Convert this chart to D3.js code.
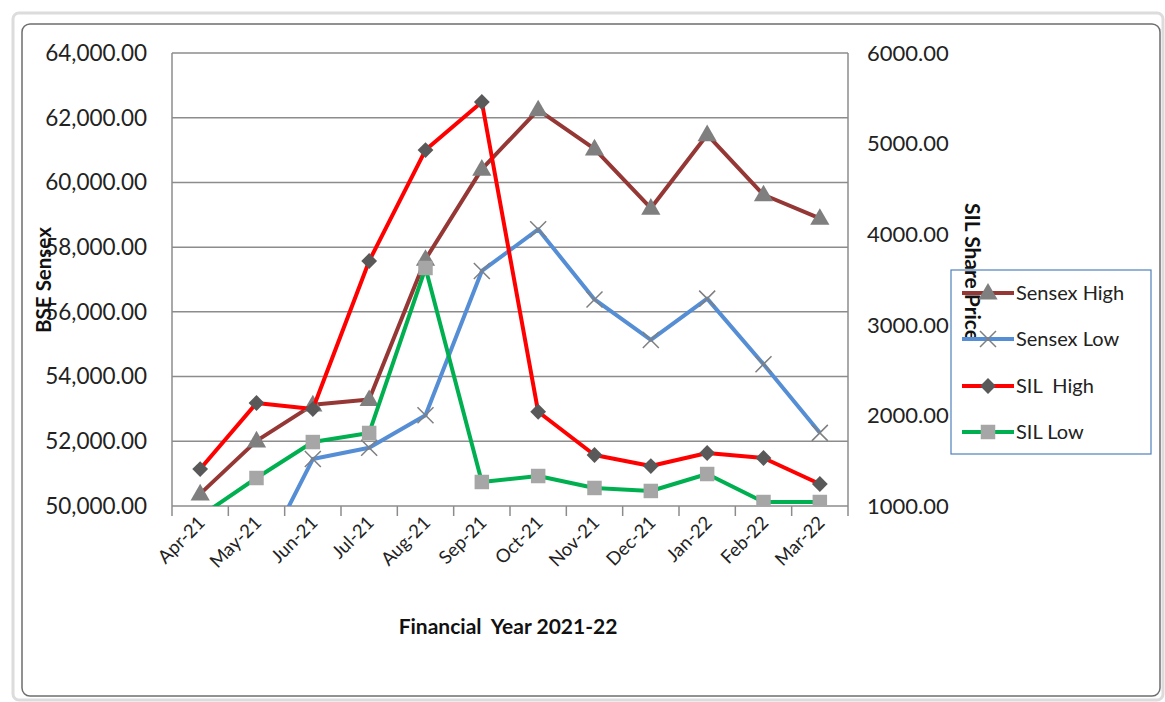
<!DOCTYPE html>
<html><head><meta charset="utf-8">
<script src="https://cdn.jsdelivr.net/npm/d3@7"></script>
<style>html,body{margin:0;padding:0;background:#fff;}svg{display:block;}</style>
</head><body>
<svg id="chart" width="1165" height="702"></svg>
<script>
const months = ["Apr-21","May-21","Jun-21","Jul-21","Aug-21","Sep-21","Oct-21","Nov-21","Dec-21","Jan-22","Feb-22","Mar-22"];
const sensexHigh = [50375.77,52013.22,53126.73,53290.81,57625.26,60412.32,62245.43,61036.56,59203.37,61475.15,59618.51,58890.92];
const sensexLow  = [47204.50,48028.07,51450.58,51802.73,52804.08,57263.90,58551.14,56382.93,55132.68,56409.63,54383.20,52260.82];
const silHigh = [1408,2137,2070,3704,4929,5459,2040,1563,1441,1585,1530,1243];
const silLow  = [885,1309,1706,1806,3627,1265,1331,1199,1166,1353,1044,1044];
const leftTicks = [50000,52000,54000,56000,58000,60000,62000,64000];
const rightTicks = [1000,2000,3000,4000,5000,6000];

const svg = d3.select("#chart");
const L=172, R=848, T=53, B=506;
const x = d3.scaleBand().domain(months).range([L,R]);
const yL = d3.scaleLinear().domain([50000,64000]).range([B,T]);
const yR = d3.scaleLinear().domain([1000,6000]).range([B,T]);
const fmtL = d3.format(",.2f"), fmtR = d3.format(".2f");
const font = "Lato, 'Open Sans', sans-serif";

// outer frames
svg.append("rect").attr("x",13).attr("y",13).attr("width",1150).attr("height",687).attr("rx",6)
  .attr("fill","none").attr("stroke","#dcdcdc").attr("stroke-width",3);
svg.append("rect").attr("x",22).attr("y",24).attr("width",1138).attr("height",672).attr("rx",8)
  .attr("fill","#fff").attr("stroke","#6e6e6e").attr("stroke-width",1.5);

// gridlines
svg.append("g").selectAll("line").data(leftTicks).join("line")
  .attr("x1",L).attr("x2",R).attr("y1",d=>yL(d)).attr("y2",d=>yL(d))
  .attr("stroke","#8c8c8c").attr("stroke-width",1.5);
// left & right axis lines
svg.append("line").attr("x1",L).attr("x2",L).attr("y1",T).attr("y2",B+10).attr("stroke","#8c8c8c").attr("stroke-width",1.5);
svg.append("line").attr("x1",R).attr("x2",R).attr("y1",T).attr("y2",B+10).attr("stroke","#8c8c8c").attr("stroke-width",1.5);
// x tick marks
svg.append("g").selectAll("line").data(months.slice(1)).join("line")
  .attr("x1",d=>x(d)).attr("x2",d=>x(d)).attr("y1",B).attr("y2",B+10)
  .attr("stroke","#8c8c8c").attr("stroke-width",1.5);

// left tick labels
svg.append("g").selectAll("text").data(leftTicks).join("text")
  .attr("x",147).attr("y",d=>yL(d)).attr("dy","0.35em").attr("text-anchor","end")
  .attr("font-family",font).attr("font-size",22.5).attr("fill","#222").text(d=>fmtL(d));
// right tick labels
svg.append("g").selectAll("text").data(rightTicks).join("text")
  .attr("x",867).attr("y",d=>yR(d)).attr("dy","0.35em").attr("text-anchor","start")
  .attr("font-family",font).attr("font-size",22).attr("fill","#222").text(d=>fmtR(d));
// x labels
svg.append("g").selectAll("text").data(months).join("text")
  .attr("transform",d=>`translate(${x(d)+x.bandwidth()/2+6},${B+18}) rotate(-45)`)
  .attr("text-anchor","end").attr("font-family",font).attr("font-size",18.5).attr("fill","#222").text(d=>d);

// axis titles
svg.append("text").attr("transform","translate(51,280) rotate(-90)").attr("text-anchor","middle")
  .attr("font-family",font).attr("font-weight","bold").attr("font-size",20.5).attr("fill","#111").text("BSE Sensex");
svg.append("text").attr("x",508).attr("y",634).attr("text-anchor","middle")
  .attr("font-family",font).attr("font-weight","bold").attr("font-size",21).attr("fill","#111").attr("xml:space","preserve").text("Financial  Year 2021-22");

// clip
svg.append("clipPath").attr("id","clip").append("rect").attr("x",L).attr("y",T-20).attr("width",R-L).attr("height",B-T+20);

const cx = d=>x(d)+x.bandwidth()/2;
const series = [
  {name:"Sensex High", vals:sensexHigh, y:yL, color:"#953735", marker:"triangle", mcolor:"#7f7f7f"},
  {name:"Sensex Low", vals:sensexLow, y:yL, color:"#558ed5", marker:"x", mcolor:"#7f7f7f"},
  {name:"SIL  High", vals:silHigh, y:yR, color:"#ff0000", marker:"diamond", mcolor:"#595959"},
  {name:"SIL Low", vals:silLow, y:yR, color:"#00b050", marker:"square", mcolor:"#a6a6a6"}
];
function drawMarker(g, s, px, py){
  if(s.marker==="x"){
    const r=8;
    g.append("path").attr("d",`M${px-r},${py-r}L${px+r},${py+r}M${px-r},${py+r}L${px+r},${py-r}`)
      .attr("stroke",s.mcolor).attr("stroke-width",1.5).attr("fill","none");
  } else if(s.marker==="diamond"){
    g.append("path").attr("d",d3.symbol().type(d3.symbolSquare).size(125)())
      .attr("transform",`translate(${px},${py}) rotate(45)`).attr("fill",s.mcolor);
  } else if(s.marker==="triangle"){
    g.append("path").attr("d",d3.symbol().type(d3.symbolTriangle).size(160)())
      .attr("transform",`translate(${px},${py+1})`).attr("fill",s.mcolor);
  } else {
    g.append("path").attr("d",d3.symbol().type(d3.symbolSquare).size(210)())
      .attr("transform",`translate(${px},${py})`).attr("fill",s.mcolor);
  }
}
const plot = svg.append("g").attr("clip-path","url(#clip)");
series.forEach(s=>{
  const line = d3.line().x((d,i)=>cx(months[i])).y(d=>s.y(d));
  plot.append("path").datum(s.vals).attr("d",line).attr("fill","none")
    .attr("stroke",s.color).attr("stroke-width",4).attr("stroke-linejoin","round");
  const mg = plot.append("g");
  s.vals.forEach((v,i)=>drawMarker(mg,s,cx(months[i]),s.y(v)));
});

// legend
const lg = svg.append("g");
lg.append("rect").attr("x",951).attr("y",270).attr("width",200).attr("height",184)
  .attr("fill","#fff").attr("stroke","#4f81bd").attr("stroke-width",1.2);
// right axis title (overlaps legend as in reference)
svg.append("text").attr("transform","translate(965,272) rotate(90)").attr("text-anchor","middle")
  .attr("font-family",font).attr("font-weight","bold").attr("font-size",21).attr("fill","#111").attr("xml:space","preserve").text("SIL Share Price");
const ly = [293,339,386,432];
series.forEach((s,i)=>{
  const g = svg.append("g");
  g.append("line").attr("x1",962).attr("x2",1014).attr("y1",ly[i]).attr("y2",ly[i]).attr("stroke",s.color).attr("stroke-width",4);
  drawMarker(g,s,988,ly[i]);
  g.append("text").attr("x",1016).attr("y",ly[i]).attr("dy","0.35em").attr("font-family",font)
    .attr("font-size",20).attr("fill","#222").attr("xml:space","preserve").text(s.name);
});
</script>
</body></html>
